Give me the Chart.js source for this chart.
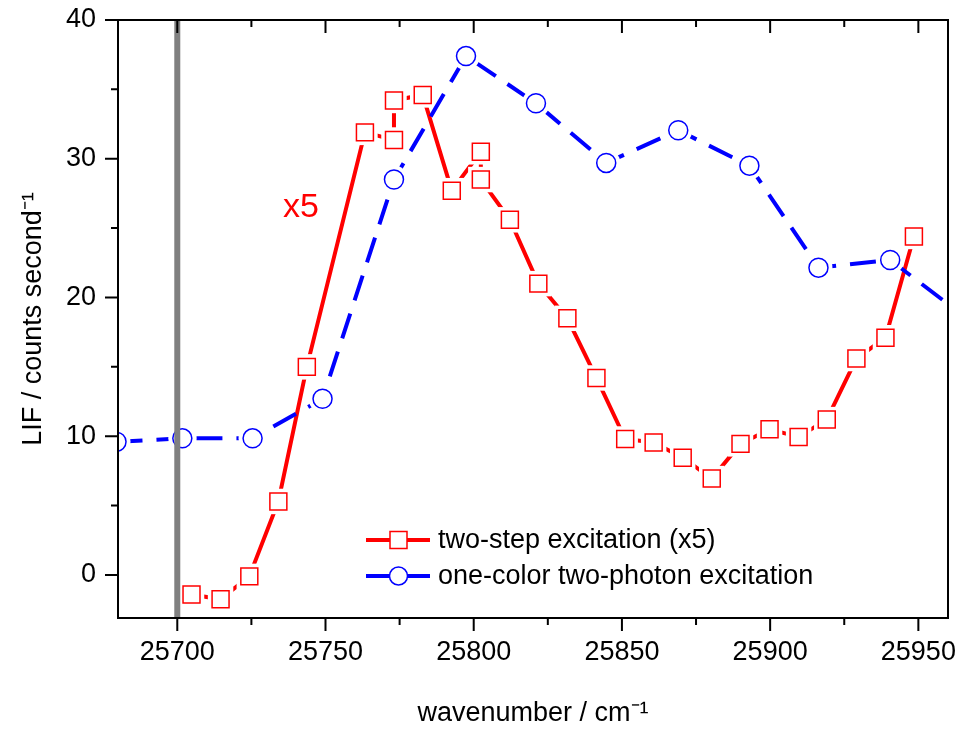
<!DOCTYPE html>
<html>
<head>
<meta charset="utf-8">
<script src="https://cdn.jsdelivr.net/npm/chart.js@4.4.0/dist/chart.umd.min.js"></script>
<style>
    html, body { margin: 0; padding: 0; background: #fff; }
</style>
</head>
<body>
<canvas id="lifChart" width="962" height="731"></canvas>
<script>
// two-step excitation (x5), red squares
const twoStepX = [25704.8, 25714.6, 25724.3, 25734.1, 25743.7, 25763.3, 25773.1, 25773.1, 25782.8, 25792.6,
    25802.4, 25802.4, 25812.2, 25821.8, 25831.6, 25841.4, 25851.1, 25860.7, 25870.5, 25880.3,
    25890.0, 25899.8, 25909.6, 25919.1, 25929.1, 25938.9, 25948.5];
const twoStepY = [-1.4, -1.75, -0.1, 5.3, 15.0, 31.9, 31.35, 34.2, 34.6, 27.7,
    30.5, 28.5, 25.6, 21.0, 18.5, 14.2, 9.8, 9.55, 8.45, 6.95,
    9.45, 10.5, 9.95, 11.2, 15.6, 17.1, 24.4];

// one-color two-photon excitation, blue circles
const oneColorX = [25679.5, 25701.7, 25725.4, 25749.0, 25773.1, 25797.4, 25821.0, 25844.7, 25869.0, 25893.0,
    25916.3, 25940.5, 25964.5];
const oneColorY = [9.6, 9.85, 9.85, 12.7, 28.5, 37.4, 34.0, 29.7, 32.05, 29.5,
    22.15, 22.7, 18.8];

const xMajorTicks = [25700, 25750, 25800, 25850, 25900, 25950];
const xMinorTicks = [25725, 25775, 25825, 25875, 25925];
const yMajorTicks = [0, 10, 20, 30, 40];
const yMinorTicks = [5, 15, 25, 35];
const markerLineX = 25700;

const legendLabels = ['two-step excitation (x5)', 'one-color two-photon excitation'];
const scaleNote = 'x5';

const FONT = '"Liberation Sans", Arial, sans-serif';
const RED = '#ff0000';
const BLUE = '#0000ff';

function toPoints(xs, ys) {
    return xs.map((x, i) => ({ x: x, y: ys[i] }));
}

const redPoints = toPoints(twoStepX, twoStepY);
const bluePoints = toPoints(oneColorX, oneColorY);

// frame, ticks, grey marker line, legend and the "x5" note
const decorations = {
    id: 'decorations',
    afterDatasetsDraw(chart) {
        const { ctx, chartArea: a, scales: { x } } = chart;
        const gx = x.getPixelForValue(markerLineX);
        ctx.save();
        ctx.fillStyle = '#808080';
        ctx.fillRect(gx - 3, a.top, 6, a.bottom - a.top);
        ctx.restore();
    },
    afterDraw(chart) {
        const { ctx, chartArea: a, scales: { x, y } } = chart;
        ctx.save();
        ctx.strokeStyle = '#000';
        ctx.lineWidth = 2;
        ctx.strokeRect(a.left, a.top, a.right - a.left, a.bottom - a.top);

        ctx.beginPath();
        xMajorTicks.forEach(v => {
            const px = x.getPixelForValue(v);
            ctx.moveTo(px, a.bottom); ctx.lineTo(px, a.bottom + 13);
            ctx.moveTo(px, a.top); ctx.lineTo(px, a.top + 13);
        });
        xMinorTicks.forEach(v => {
            const px = x.getPixelForValue(v);
            ctx.moveTo(px, a.bottom); ctx.lineTo(px, a.bottom + 7);
            ctx.moveTo(px, a.top); ctx.lineTo(px, a.top + 7);
        });
        yMajorTicks.forEach(v => {
            const py = y.getPixelForValue(v);
            ctx.moveTo(a.left, py); ctx.lineTo(a.left - 13, py);
        });
        yMinorTicks.forEach(v => {
            const py = y.getPixelForValue(v);
            ctx.moveTo(a.left, py); ctx.lineTo(a.left - 7, py);
        });
        ctx.stroke();

        // legend
        const rows = [
            { y: 540, color: RED, shape: 'rect', text: legendLabels[0] },
            { y: 576, color: BLUE, shape: 'circle', text: legendLabels[1] }
        ];
        rows.forEach(r => {
            ctx.strokeStyle = r.color;
            ctx.lineWidth = 4;
            ctx.beginPath();
            ctx.moveTo(366, r.y); ctx.lineTo(430, r.y);
            ctx.stroke();
            ctx.fillStyle = '#fff';
            ctx.lineWidth = 1.5;
            ctx.beginPath();
            if (r.shape === 'rect') {
                ctx.rect(390, r.y - 8.5, 17, 17);
            } else {
                ctx.arc(398.5, r.y, 9, 0, Math.PI * 2);
            }
            ctx.fill();
            ctx.stroke();
            ctx.fillStyle = '#000';
            ctx.font = '27px ' + FONT;
            ctx.textAlign = 'left';
            ctx.textBaseline = 'middle';
            ctx.fillText(r.text, 438, r.y + 1);
        });

        ctx.fillStyle = RED;
        ctx.font = '34px ' + FONT;
        ctx.textAlign = 'left';
        ctx.textBaseline = 'alphabetic';
        ctx.fillText(scaleNote, 283, 217);
        ctx.restore();
    }
};

new Chart(document.getElementById('lifChart'), {
    type: 'line',
    data: {
        datasets: [
            {
                label: legendLabels[0],
                data: redPoints,
                borderColor: RED,
                borderWidth: 4,
                pointRadius: 0,
                fill: false,
                tension: 0,
                clip: 0,
                order: 6
            },
            {
                // white pad so the line stops short of each marker
                label: 'red gap',
                data: redPoints,
                showLine: false,
                pointStyle: 'rect',
                pointRadius: 18,
                pointBackgroundColor: '#fff',
                pointBorderWidth: 0,
                pointBorderColor: 'rgba(0,0,0,0)',
                clip: 0,
                order: 5
            },
            {
                label: 'red marks',
                data: redPoints,
                showLine: false,
                pointStyle: 'rect',
                pointRadius: 12,
                pointBackgroundColor: '#fff',
                pointBorderColor: RED,
                pointBorderWidth: 1.5,
                clip: 0,
                order: 4
            },
            {
                label: legendLabels[1],
                data: bluePoints,
                borderColor: BLUE,
                borderWidth: 4,
                borderDash: [26, 14],
                pointRadius: 0,
                fill: false,
                tension: 0,
                clip: 0,
                order: 3
            },
            {
                label: 'blue gap',
                data: bluePoints,
                showLine: false,
                pointStyle: 'circle',
                pointRadius: 14,
                pointBackgroundColor: '#fff',
                pointBorderWidth: 0,
                pointBorderColor: 'rgba(0,0,0,0)',
                clip: 0,
                order: 2
            },
            {
                label: 'blue marks',
                data: bluePoints,
                showLine: false,
                pointStyle: 'circle',
                pointRadius: 9.5,
                pointBackgroundColor: '#fff',
                pointBorderColor: BLUE,
                pointBorderWidth: 1.5,
                clip: 0,
                order: 1
            }
        ]
    },
    options: {
        responsive: false,
        devicePixelRatio: 1,
        animation: false,
        events: [],
        layout: {
            autoPadding: false,
            padding: { top: 20, right: 14, left: 0, bottom: 0 }
        },
        plugins: {
            legend: { display: false },
            tooltip: { enabled: false }
        },
        scales: {
            x: {
                type: 'linear',
                min: 25680,
                max: 25960,
                grid: { display: false, tickLength: 13 },
                border: { display: false },
                ticks: {
                    stepSize: 50,
                    includeBounds: false,
                    autoSkip: false,
                    maxRotation: 0,
                    padding: 5,
                    color: '#000',
                    font: { family: FONT, size: 27 },
                    callback: v => String(v)
                },
                title: {
                    display: true,
                    text: 'wavenumber / cm⁻¹',
                    color: '#000',
                    font: { family: FONT, size: 27 },
                    padding: { top: 0, bottom: 1 }
                },
                afterFit: s => {
                    s.height = 113;
                    s.paddingLeft = 0;
                    s.paddingRight = 0;
                }
            },
            y: {
                type: 'linear',
                min: -3.1,
                max: 40,
                grid: { display: false, tickLength: 13 },
                border: { display: false },
                ticks: {
                    stepSize: 10,
                    includeBounds: false,
                    padding: 9,
                    color: '#000',
                    font: { family: FONT, size: 27 },
                    callback: v => String(v)
                },
                title: {
                    display: true,
                    text: 'LIF / counts second⁻¹',
                    color: '#000',
                    font: { family: FONT, size: 27 },
                    padding: { top: 17, bottom: 0 }
                },
                afterFit: s => {
                    s.width = 118;
                    s.paddingTop = 0;
                    s.paddingBottom = 0;
                }
            }
        }
    },
    plugins: [decorations]
});
</script>
</body>
</html>
